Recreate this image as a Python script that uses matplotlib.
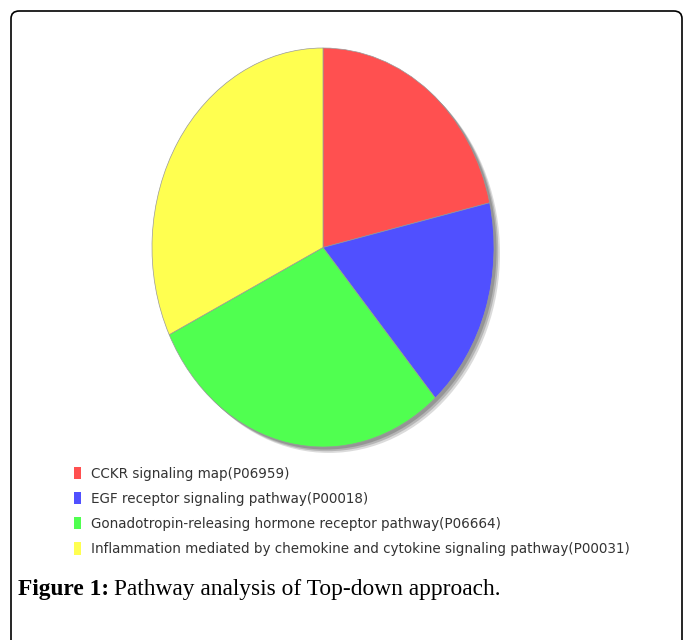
import matplotlib.pyplot as plt
from matplotlib.patches import Ellipse, FancyBboxPatch

# pathway shares (percent)
labels = [
    "CCKR signaling map(P06959)",
    "EGF receptor signaling pathway(P00018)",
    "Gonadotropin-releasing hormone receptor pathway(P06664)",
    "Inflammation mediated by chemokine and cytokine signaling pathway(P00031)",
]
shares = [21.4, 17.2, 29.2, 32.2]
colors = ["#FF5050", "#5050FF", "#50FF50", "#FFFF50"]

W, H = 683, 640
fig = plt.figure(figsize=(W / 100, H / 100), dpi=100)

# outer frame with rounded corners
frame = FancyBboxPatch((11 / W, -0.05), 671 / W, (H - 11) / H + 0.05,
                       boxstyle="round,pad=0,rounding_size=0.012",
                       transform=fig.transFigure, fill=False,
                       edgecolor="black", linewidth=1.2)
fig.patches.append(frame)

# pie axes: ellipse box 152..494 x 48..447 (pixels)
ax = fig.add_axes([152 / W, 1 - 447 / H, 342 / W, 399 / H])
wedges, _ = ax.pie(shares, colors=colors, startangle=90, counterclock=False,
                   wedgeprops=dict(edgecolor="#999999", linewidth=0.5))
ax.set_aspect("auto")
ax.set_xlim(-1, 1)
ax.set_ylim(-1, 1)

# soft shadow on lower right
for off, a in [(0.035, 0.25), (0.025, 0.35), (0.015, 0.45)]:
    sh = Ellipse((off, -off * 0.85), 2, 2, facecolor="#707070", alpha=a,
                 edgecolor="none", zorder=0, clip_on=False)
    ax.add_patch(sh)

leg = fig.legend(wedges, labels, loc="upper left",
                 bbox_to_anchor=(67 / W, 1 - 460 / H), frameon=False,
                 fontsize=9.75, labelspacing=0.82, handlelength=0.5,
                 handleheight=1.0, handletextpad=0.8, borderpad=0)
for t in leg.get_texts():
    t.set_color("#333333")
for h in leg.legend_handles:
    h.set_edgecolor("none")

# caption
cap_y = 1 - 590 / H
t1 = fig.text(18 / W, cap_y, "Figure 1:", fontsize=16.8, fontweight="bold",
              family="Liberation Serif", va="center", ha="left")
r = fig.canvas.get_renderer()
x1 = t1.get_window_extent(r).x1
fig.text((x1 + 5) / W, cap_y, "Pathway analysis of Top-down approach.",
         fontsize=16.8, family="Liberation Serif", va="center", ha="left")

fig.savefig("out.png", dpi=100)
